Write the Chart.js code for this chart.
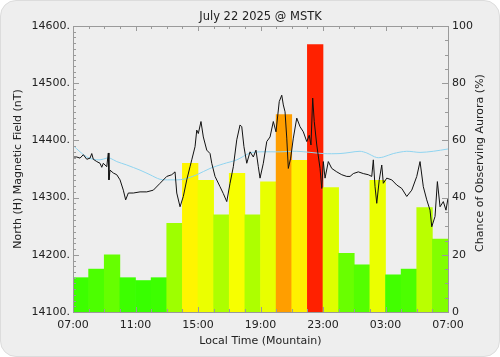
<!DOCTYPE html>
<html>
<head>
<meta charset="utf-8">
<script src="https://cdn.jsdelivr.net/npm/chart.js@4"></script>
<style>
  html, body { margin: 0; padding: 0; background: #ffffff; }
  #wrap { position: relative; width: 500px; height: 357px; background: #eeeeee; border-radius: 16px; overflow: hidden; box-sizing: border-box; border: 1px solid #dcdcdc; }
  canvas { position: absolute; left: -1px; top: -1px; }
</style>
</head>
<body>
<div id="wrap"><canvas id="c" width="500" height="357"></canvas></div>
<script>
// ---- data ----
const titleText = 'July 22 2025 @ MSTK';
const xTickLabels = ['07:00', '11:00', '15:00', '19:00', '23:00', '03:00', '07:00'];
// hourly chance of observing aurora (%), starting 07:00 local
const auroraChance = [12, 15, 20, 12, 11, 12, 31, 52, 46, 34, 48.5, 34, 45.5, 69, 53, 93.5, 43.5, 20.5, 16.5, 46, 13, 15, 36.5, 25.5];
// North (H) magnetic field: hours after 07:00, value in nT
const fieldTime = [0.02, 0.24, 0.45, 0.66, 0.88, 1.09, 1.20, 1.30, 1.52, 1.73, 1.84, 1.94, 2.16, 2.26, 2.30, 2.37, 2.58, 2.80, 3.01, 3.22, 3.37, 3.54, 3.86, 4.29, 4.72, 5.14, 5.57, 6.00, 6.32, 6.53, 6.64, 6.85, 7.06, 7.28, 7.49, 7.60, 7.81, 7.92, 8.02, 8.19, 8.34, 8.56, 8.77, 8.88, 9.09, 9.41, 9.62, 9.84, 10.05, 10.26, 10.48, 10.69, 10.80, 10.94, 11.12, 11.33, 11.54, 11.71, 11.86, 11.97, 12.18, 12.40, 12.61, 12.82, 12.99, 13.20, 13.36, 13.46, 13.57, 13.68, 13.78, 13.93, 14.10, 14.32, 14.53, 14.74, 14.96, 15.12, 15.23, 15.34, 15.44, 15.60, 15.81, 15.92, 16.02, 16.13, 16.34, 16.56, 16.88, 17.20, 17.52, 17.73, 17.94, 18.26, 18.58, 18.90, 19.12, 19.22, 19.33, 19.44, 19.60, 19.76, 19.86, 20.08, 20.40, 20.72, 21.04, 21.36, 21.68, 22.00, 22.21, 22.42, 22.64, 22.85, 22.96, 23.17, 23.32, 23.49, 23.70, 23.87, 24.0];
const fieldH = [14371, 14371, 14369, 14375, 14367, 14369, 14377, 14367, 14363, 14360, 14353, 14360, 14354, 14378, 14331, 14348, 14343, 14340, 14331, 14313, 14296, 14308, 14308, 14310, 14310, 14313, 14325, 14337, 14340, 14345, 14308, 14284, 14302, 14331, 14354, 14366, 14389, 14418, 14412, 14433, 14406, 14383, 14377, 14360, 14337, 14319, 14307, 14293, 14325, 14354, 14401, 14427, 14424, 14389, 14360, 14380, 14371, 14383, 14354, 14334, 14360, 14398, 14406, 14433, 14415, 14468, 14479, 14462, 14450, 14404, 14351, 14369, 14404, 14439, 14424, 14415, 14398, 14409, 14392, 14474, 14433, 14392, 14351, 14316, 14363, 14334, 14363, 14351, 14345, 14340, 14337, 14337, 14342, 14345, 14342, 14340, 14337, 14366, 14319, 14290, 14331, 14357, 14325, 14334, 14331, 14322, 14316, 14302, 14313, 14337, 14363, 14319, 14296, 14278, 14249, 14267, 14328, 14284, 14293, 14278, 14299];
// quiet-day baseline (nT)
const baseTime = [0.02, 0.45, 0.88, 1.30, 1.73, 2.16, 2.37, 2.80, 3.44, 4.29, 4.93, 5.57, 6.21, 7.06, 7.92, 8.77, 9.62, 10.48, 11.33, 11.97, 13.25, 14.32, 16.02, 17.09, 17.73, 18.37, 18.80, 19.44, 19.86, 20.50, 21.36, 22.21, 23.06, 24.0];
const baseH = [14391, 14380, 14371, 14367, 14366, 14369, 14369, 14363, 14357, 14348, 14340, 14332, 14331, 14332, 14340, 14351, 14359, 14366, 14378, 14380, 14380, 14381, 14377, 14377, 14379, 14381, 14378, 14370, 14371, 14377, 14381, 14379, 14381, 14385];

// ---- styling helpers ----
const FONT = { family: 'DejaVu Sans', size: 11, lineHeight: 1.2 };
const TXT = '#222222';
const AXIS = '#9a9a9a';
function chanceColor(p) { return 'hsl(' + (120 - 1.2 * p).toFixed(1) + ',100%,50%)'; }

const barData = auroraChance.map((v, i) => ({ x: i + 0.5, y: v }));
const fieldData = fieldTime.map((t, i) => ({ x: t, y: fieldH[i] }));
const baseData = baseTime.map((t, i) => ({ x: t, y: baseH[i] }));

const frameAndTicks = {
  id: 'frameAndTicks',
  afterDatasetsDraw(chart) {
    const { ctx, chartArea: a, scales } = chart;
    ctx.save();
    ctx.strokeStyle = AXIS;
    ctx.lineWidth = 1;
    ctx.beginPath();
    // x ticks every hour, top and bottom
    for (let h = 0; h <= 24; h++) {
      const px = Math.round(scales.x.getPixelForValue(h)) + 0.5;
      const len = (h % 4 === 0) ? 5 : 3;
      ctx.moveTo(px, a.bottom); ctx.lineTo(px, a.bottom - len);
      ctx.moveTo(px, a.top); ctx.lineTo(px, a.top + len);
    }
    // left axis ticks
    for (let v = 14100; v <= 14600; v += 10) {
      const py = Math.round(scales.y.getPixelForValue(v)) + 0.5;
      const len = (v % 100 === 0) ? 6 : 3;
      ctx.moveTo(a.left, py); ctx.lineTo(a.left + len, py);
    }
    // right axis ticks
    for (let v = 0; v <= 100; v += 5) {
      const py = Math.round(scales.y2.getPixelForValue(v)) + 0.5;
      const len = (v % 20 === 0) ? 6 : 3;
      ctx.moveTo(a.right, py); ctx.lineTo(a.right - len, py);
    }
    ctx.stroke();
    ctx.strokeRect(Math.round(a.left) + 0.5, Math.round(a.top) + 0.5, Math.round(a.right - a.left), Math.round(a.bottom - a.top));
    // right axis title (reads bottom to top)
    ctx.fillStyle = TXT;
    ctx.font = '11px "DejaVu Sans"';
    ctx.textAlign = 'center';
    ctx.textBaseline = 'middle';
    ctx.translate(480, 163);
    ctx.rotate(-Math.PI / 2);
    ctx.fillText('Chance of Observing Aurora (%)', 0, 0);
    ctx.restore();
  }
};

new Chart(document.getElementById('c'), {
  type: 'bar',
  data: {
    datasets: [
      { type: 'line', data: fieldData, yAxisID: 'y', borderColor: '#111111', borderWidth: 1, pointRadius: 0, tension: 0, order: 1 },
      { type: 'line', data: baseData, yAxisID: 'y', borderColor: '#8fd4f0', borderWidth: 1, pointRadius: 0, tension: 0.3, order: 2 },
      { type: 'bar', data: barData, yAxisID: 'y2', backgroundColor: auroraChance.map(chanceColor), borderWidth: 0, barPercentage: 1, categoryPercentage: 1, order: 3 }
    ]
  },
  options: {
    responsive: false,
    animation: false,
    layout: { padding: 0 },
    plugins: {
      legend: { display: false },
      tooltip: { enabled: false },
      title: { display: true, text: titleText, fullSize: false, color: TXT, font: { family: 'DejaVu Sans', size: 11.5, weight: 'normal', lineHeight: 1.2 }, padding: { top: 10, bottom: 2.2 } }
    },
    scales: {
      x: {
        type: 'linear', min: 0, max: 24, offset: false,
        afterFit: s => { s.height = 45; },
        grid: { display: false, drawTicks: false },
        border: { display: false },
        ticks: { stepSize: 4, autoSkip: false, maxRotation: 0, padding: 7, color: TXT, font: FONT,
          callback: v => xTickLabels[v / 4] },
        title: { display: true, text: 'Local Time (Mountain)', color: TXT, font: FONT, padding: { top: 0, bottom: 9.4 } }
      },
      y: {
        position: 'left', min: 14100, max: 14600,
        afterFit: s => { s.width = 73; },
        grid: { display: false, drawTicks: false },
        border: { display: false },
        ticks: { stepSize: 100, padding: 3, color: TXT, font: FONT, callback: v => v.toFixed(0) + '.' },
        title: { display: true, text: 'North (H) Magnetic Field (nT)', color: TXT, font: FONT, padding: { top: 11.4, bottom: 0 } }
      },
      y2: {
        position: 'right', min: 0, max: 100,
        afterFit: s => { s.width = 52; },
        grid: { display: false, drawTicks: false },
        border: { display: false },
        ticks: { stepSize: 20, padding: 4, color: TXT, font: FONT }
      }
    }
  },
  plugins: [frameAndTicks]
});
</script>
</body>
</html>
